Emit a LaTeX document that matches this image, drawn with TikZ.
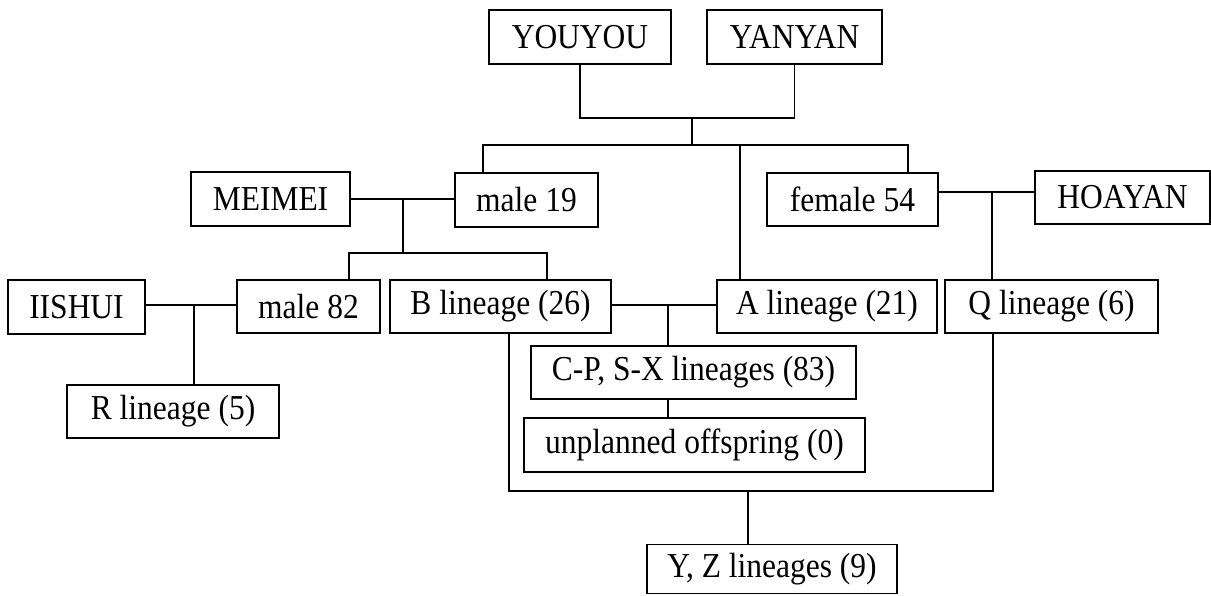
\documentclass[tikz,border=0pt]{standalone}
\usepackage{fontspec}
\setmainfont{Liberation Serif}[FakeStretch=0.9]
\begin{document}
\begin{tikzpicture}[x=1pt,y=-1pt,
  box/.style={draw, line width=1.7pt, inner sep=0pt, font=\fontsize{35}{40}\selectfont},
  conn/.style={line width=1.7pt}]
\useasboundingbox (0,0) rectangle (1211,595);
% nodes
\node[box, minimum width=182pt, minimum height=54pt] (youyou) at (580,37) {YOUYOU};
\node[box, minimum width=175pt, minimum height=54pt] (yanyan) at (794.5,37) {YANYAN};
\node[box, minimum width=159pt, minimum height=54pt] (meimei) at (270.5,199) {MEIMEI};
\node[box, minimum width=143pt, minimum height=54pt] (male19) at (526.5,200) {male 19};
\node[box, minimum width=171pt, minimum height=53pt] (female54) at (852.5,199.5) {female 54};
\node[box, minimum width=175pt, minimum height=53pt] (hoayan) at (1122.5,197.5) {HOAYAN};
\node[box, minimum width=137pt, minimum height=54pt] (iishui) at (76.5,307) {IISHUI};
\node[box, minimum width=143pt, minimum height=53pt] (male82) at (308.5,306.5) {male 82};
\node[box, minimum width=221pt, minimum height=53pt] (blin) at (500.5,306.5) {B lineage (26)};
\node[box, minimum width=220pt, minimum height=53pt] (alin) at (827,306.5) {A lineage (21)};
\node[box, minimum width=213pt, minimum height=53pt] (qlin) at (1051.5,306.5) {Q lineage (6)};
\node[box, minimum width=212pt, minimum height=53pt] (rlin) at (173,411.5) {R lineage (5)};
\node[box, minimum width=325pt, minimum height=53pt] (cp) at (693.5,372.5) {C-P, S-X lineages (83)};
\node[box, minimum width=341pt, minimum height=54pt] (unpl) at (694.5,445) {unplanned offspring (0)};
\node[box, minimum width=250pt, minimum height=49pt] (yz) at (772,569) {Y, Z lineages (9)};
% junction coordinates
\coordinate (pj) at (692,118);
\coordinate (pb) at (692,145);
\coordinate (m19t) at (483,145);
\coordinate (f54t) at (908,145);
\coordinate (at) at (740,145);
\coordinate (mj) at (403,199);
\coordinate (mb) at (403,253);
\coordinate (m82t) at (349,253);
\coordinate (bt) at (547,253);
\coordinate (ij) at (194,305);
\coordinate (baj) at (668,305);
\coordinate (fh) at (992,192);
\coordinate (bb) at (509,491);
\coordinate (qb) at (993,491);
\coordinate (yzj) at (748,491);
% connectors
\draw[conn] (youyou.south) -- (youyou.south |- pj) -- (yanyan.south |- pj) -- (yanyan.south);
\draw[conn] (pj) -- (pb);
\draw[conn] (m19t |- male19.north) -- (m19t) -- (f54t) -- (f54t |- female54.north);
\draw[conn] (at) -- (at |- alin.north);
\draw[conn] (meimei.east |- mj) -- (male19.west |- mj);
\draw[conn] (mj) -- (mb);
\draw[conn] (m82t |- male82.north) -- (m82t) -- (bt) -- (bt |- blin.north);
\draw[conn] (iishui.east |- ij) -- (male82.west |- ij);
\draw[conn] (ij) -- (ij |- rlin.north);
\draw[conn] (blin.east |- baj) -- (alin.west |- baj);
\draw[conn] (baj) -- (baj |- cp.north);
\draw[conn] (baj |- cp.south) -- (baj |- unpl.north);
\draw[conn] (female54.east |- fh) -- (hoayan.west |- fh);
\draw[conn] (fh) -- (fh |- qlin.north);
\draw[conn] (bb |- blin.south) -- (bb) -- (qb) -- (qb |- qlin.south);
\draw[conn] (yzj) -- (yzj |- yz.north);
\end{tikzpicture}
\end{document}
